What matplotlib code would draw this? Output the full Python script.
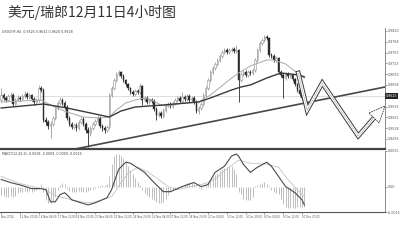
import numpy as np
import matplotlib
matplotlib.use('Agg')
import matplotlib.pyplot as plt
import matplotlib.transforms as mtransforms

# USDCHF H4 bars (one per 4 hours, oldest first)
open_first = 0.9613
closes = [0.9628, 0.9619, 0.9613, 0.9625, 0.9628, 0.9601, 0.9613, 0.9619, 0.9616, 0.9625,
          0.9631, 0.9622, 0.9628, 0.9616, 0.9607, 0.9613, 0.9649, 0.9643, 0.9553, 0.9547,
          0.9535, 0.9541, 0.9559, 0.9589, 0.9604, 0.9613, 0.9604, 0.9592, 0.9559, 0.9541,
          0.9532, 0.9538, 0.9529, 0.9547, 0.9556, 0.9541, 0.9523, 0.9514, 0.9529, 0.9541,
          0.9550, 0.9559, 0.9535, 0.9529, 0.9523, 0.9532, 0.9628, 0.9649, 0.9673, 0.9691,
          0.9697, 0.9685, 0.9673, 0.9661, 0.9649, 0.9637, 0.9631, 0.9640, 0.9637, 0.9655,
          0.9613, 0.9619, 0.9607, 0.9613, 0.9610, 0.9586, 0.9568, 0.9574, 0.9565, 0.9583,
          0.9598, 0.9601, 0.9595, 0.9604, 0.9613, 0.9619, 0.9610, 0.9622, 0.9616, 0.9625,
          0.9613, 0.9619, 0.9607, 0.9580, 0.9589, 0.9601, 0.9628, 0.9649, 0.9673, 0.9697,
          0.9709, 0.9721, 0.9733, 0.9745, 0.9757, 0.9763, 0.9757, 0.9763, 0.9766, 0.9760,
          0.9763, 0.9673, 0.9691, 0.9697, 0.9688, 0.9697, 0.9694, 0.9703, 0.9733, 0.9763,
          0.9784, 0.9793, 0.9802, 0.9799, 0.9748, 0.9745, 0.9733, 0.9739, 0.9697, 0.9688,
          0.9679, 0.9691, 0.9685, 0.9688, 0.9676, 0.9661, 0.9643, 0.9631, 0.9619, 0.9625]
highs = [0.9649, 0.9634, 0.9625, 0.9631, 0.9637, 0.9634, 0.9619, 0.9628, 0.9625, 0.9631,
         0.9640, 0.9637, 0.9634, 0.9631, 0.9622, 0.9619, 0.9658, 0.9655, 0.9649, 0.9562,
         0.9553, 0.9550, 0.9565, 0.9595, 0.9610, 0.9622, 0.9619, 0.9610, 0.9598, 0.9565,
         0.9547, 0.9544, 0.9544, 0.9553, 0.9565, 0.9562, 0.9547, 0.9532, 0.9535, 0.9547,
         0.9556, 0.9568, 0.9565, 0.9541, 0.9535, 0.9538, 0.9634, 0.9655, 0.9679, 0.9697,
         0.9703, 0.9700, 0.9691, 0.9676, 0.9664, 0.9652, 0.9643, 0.9646, 0.9646, 0.9664,
         0.9658, 0.9625, 0.9625, 0.9619, 0.9619, 0.9616, 0.9592, 0.9580, 0.9580, 0.9589,
         0.9604, 0.9607, 0.9607, 0.9610, 0.9619, 0.9625, 0.9625, 0.9637, 0.9628, 0.9631,
         0.9631, 0.9625, 0.9625, 0.9613, 0.9595, 0.9607, 0.9634, 0.9655, 0.9679, 0.9703,
         0.9715, 0.9727, 0.9739, 0.9751, 0.9763, 0.9769, 0.9769, 0.9769, 0.9772, 0.9772,
         0.9778, 0.9766, 0.9697, 0.9703, 0.9703, 0.9703, 0.9703, 0.9709, 0.9739, 0.9769,
         0.9790, 0.9799, 0.9808, 0.9808, 0.9802, 0.9754, 0.9751, 0.9745, 0.9742, 0.9703,
         0.9694, 0.9697, 0.9697, 0.9694, 0.9691, 0.9679, 0.9664, 0.9646, 0.9634, 0.9631]
lows = [0.9607, 0.9613, 0.9607, 0.9610, 0.9619, 0.9595, 0.9598, 0.9610, 0.9610, 0.9613,
        0.9619, 0.9616, 0.9616, 0.9610, 0.9598, 0.9601, 0.9607, 0.9637, 0.9547, 0.9538,
        0.9526, 0.9499, 0.9535, 0.9553, 0.9583, 0.9598, 0.9598, 0.9586, 0.9553, 0.9535,
        0.9526, 0.9526, 0.9520, 0.9523, 0.9541, 0.9535, 0.9514, 0.9472, 0.9505, 0.9523,
        0.9535, 0.9544, 0.9529, 0.9520, 0.9514, 0.9517, 0.9526, 0.9622, 0.9643, 0.9667,
        0.9685, 0.9679, 0.9667, 0.9655, 0.9643, 0.9631, 0.9625, 0.9625, 0.9631, 0.9631,
        0.9598, 0.9607, 0.9601, 0.9601, 0.9604, 0.9580, 0.9553, 0.9562, 0.9559, 0.9559,
        0.9577, 0.9592, 0.9589, 0.9589, 0.9598, 0.9607, 0.9604, 0.9604, 0.9610, 0.9610,
        0.9607, 0.9607, 0.9601, 0.9574, 0.9571, 0.9583, 0.9595, 0.9622, 0.9643, 0.9667,
        0.9691, 0.9703, 0.9715, 0.9727, 0.9739, 0.9751, 0.9751, 0.9751, 0.9757, 0.9754,
        0.9754, 0.9607, 0.9667, 0.9685, 0.9682, 0.9682, 0.9688, 0.9688, 0.9697, 0.9727,
        0.9757, 0.9778, 0.9787, 0.9793, 0.9742, 0.9739, 0.9727, 0.9727, 0.9691, 0.9682,
        0.9619, 0.9673, 0.9679, 0.9679, 0.9670, 0.9655, 0.9637, 0.9625, 0.9613, 0.9604]

# moving averages (bar index, price)
ma_slow_x = [0, 9, 18, 28, 42, 46, 51, 57, 69, 84, 89, 98, 102, 106, 113, 119, 123, 127, 129]
ma_slow_y = [0.9589, 0.9595, 0.9601, 0.9589, 0.9568, 0.9562, 0.9580, 0.9592, 0.9598, 0.9607,
             0.9619, 0.9643, 0.9652, 0.9658, 0.9679, 0.9694, 0.9691, 0.9688, 0.9682]
ma_fast_x = [0, 9, 17, 21, 28, 35, 42, 46, 49, 53, 57, 61, 64, 68, 71, 77, 84, 89, 97, 101,
             106, 113, 116, 121, 126, 129]
ma_fast_y = [0.9607, 0.9610, 0.9613, 0.9598, 0.9577, 0.9562, 0.9559, 0.9562, 0.9583, 0.9604,
             0.9613, 0.9619, 0.9613, 0.9598, 0.9595, 0.9604, 0.9607, 0.9628, 0.9673, 0.9694,
             0.9715, 0.9733, 0.9733, 0.9721, 0.9694, 0.9679]

# MACD panel
macd_x = [0, 4, 9, 13, 17, 19, 21, 23, 25, 27, 28, 30, 34, 37, 40, 43, 45, 47, 48, 50, 53, 55,
          57, 61, 65, 69, 72, 77, 82, 85, 88, 91, 95, 98, 100, 101, 103, 106, 109, 113, 115,
          118, 121, 125, 128, 129]
macd_y = [0.0007, 0.0004, 0.0001, -0.0002, -0.0002, -0.0003, -0.0015, -0.0015, -0.0008, -0.0006,
          -0.0008, -0.0013, -0.0016, -0.0018, -0.0016, -0.0013, -0.0011, -0.0003, 0.0004, 0.0017,
          0.0024, 0.0023, 0.0020, 0.0014, 0.0004, -0.0005, -0.0005, 0.0000, 0.0004, 0.0000,
          0.0002, 0.0014, 0.0020, 0.0030, 0.0032, 0.0030, 0.0022, 0.0014, 0.0019, 0.0024,
          0.0020, 0.0010, 0.0000, -0.0006, -0.0013, -0.0018]
signal_x = [0, 8, 19, 23, 30, 34, 38, 43, 47, 51, 54, 58, 62, 67, 71, 75, 79, 85, 88, 92, 94,
            97, 101, 106, 113, 118, 122, 126, 129]
signal_y = [0.0010, 0.0003, -0.0003, -0.0009, -0.0013, -0.0015, -0.0016, -0.0013, -0.0010, 0.0004,
            0.0013, 0.0019, 0.0015, 0.0007, 0.0000, -0.0003, -0.0001, 0.0002, 0.0004, 0.0009,
            0.0014, 0.0019, 0.0026, 0.0023, 0.0022, 0.0019, 0.0007, -0.0003, -0.0010]
hist = [-0.0008, -0.0009, -0.0010, -0.0010, -0.0009, -0.0010, -0.0009, -0.0006, -0.0005, -0.0005,
        -0.0004, -0.0005, -0.0004, -0.0005, -0.0004, -0.0003, -0.0002, 0.0003, -0.0005, -0.0013,
        -0.0016, -0.0016, -0.0014, -0.0010, -0.0003, 0.0002, 0.0004, 0.0003, -0.0002, -0.0004,
        -0.0005, -0.0005, -0.0005, -0.0004, -0.0004, -0.0005, -0.0005, -0.0004, -0.0003, -0.0002,
        -0.0001, 0.0001, 0.0001, 0.0002, 0.0002, 0.0003, 0.0010, 0.0022, 0.0030, 0.0032,
        0.0032, 0.0030, 0.0028, 0.0024, 0.0020, 0.0016, 0.0012, 0.0008, 0.0005, 0.0002,
        -0.0003, -0.0006, -0.0008, -0.0010, -0.0012, -0.0013, -0.0015, -0.0016, -0.0016, -0.0015,
        -0.0012, -0.0008, -0.0005, -0.0003, -0.0002, -0.0001, 0.0000, 0.0002, 0.0003, 0.0004,
        0.0005, 0.0004, 0.0003, 0.0001, -0.0001, -0.0002, -0.0001, 0.0002, 0.0004, 0.0006,
        0.0009, 0.0011, 0.0013, 0.0015, 0.0017, 0.0018, 0.0019, 0.0020, 0.0020, 0.0017,
        0.0012, -0.0005, -0.0007, -0.0012, -0.0013, -0.0013, -0.0013, -0.0010, 0.0001, 0.0002,
        0.0003, 0.0004, 0.0005, 0.0003, 0.0001, -0.0003, -0.0005, -0.0006, -0.0007, -0.0012,
        -0.0017, -0.0020, -0.0021, -0.0021, -0.0021, -0.0021, -0.0020, -0.0020, -0.0020, -0.0020]

# trend line and forecast path drawn on the chart
trend_x = [31.4, 163.3]
trend_y = [0.9466, 0.9652]
path_x = [126.4, 130.2, 136.6, 151.9, 158.2]
path_y = [0.9694, 0.9583, 0.9664, 0.9505, 0.9556]
head_x = [156.5, 163.3, 160.8]
head_y = [0.9574, 0.9595, 0.9544]

price_ticks = [0.9820, 0.9788, 0.9755, 0.9723, 0.9690, 0.9658, 0.9593, 0.9561, 0.9528, 0.9496]
macd_ticks = [0.0035, 0.0, -0.0025]
macd_tick_labels = ['0.0035', '0.00', '-0.0025']
time_tick_pos = [0, 8, 16, 24, 32, 40, 48, 56, 64, 72, 80, 88, 96, 104, 112, 120, 128]
time_labels = ['Nov 2014', '12 Nov 20:00', '14 Nov 04:00', '17 Nov 12:00', '18 Nov 20:00',
               '20 Nov 04:00', '21 Nov 12:00', '24 Nov 20:00', '26 Nov 04:00', '27 Nov 12:00',
               '28 Nov 20:00', '2 Dec 04:00', '3 Dec 12:00', '4 Dec 20:00', '8 Dec 04:00',
               '9 Dec 12:00', '10 Dec 20:00']
title = '美元/瑞郎12月11日4小时图'
info = 'USDCHF,H4  0.9625 0.9632 0.9620 0.9628'
macd_info = 'MACD(12,26,9) -0.0018 -0.0009 -0.0009 -0.0019'

W, H = 400, 248
fig = plt.figure(figsize=(W / 100, H / 100), dpi=100)
ax = fig.add_axes([0, 1 - 149 / H, 385 / W, (149 - 28) / H])
ax2 = fig.add_axes([0, 1 - 212 / H, 385 / W, (212 - 151) / H])

idx = np.arange(len(closes))
c = np.array(closes)
o = np.array([open_first] + closes[:-1])
up = c >= o
dark = '#2b2b2b'
light = '#9c9c9c'

# candles
wick_cols = [light if u else dark for u in up]
ax.vlines(idx, lows, highs, colors=wick_cols, lw=0.6, zorder=2)
ax.bar(idx[up], (c - o)[up], bottom=o[up], width=0.62, color='white',
       edgecolor=light, lw=0.45, zorder=3)
ax.bar(idx[~up], (c - o)[~up], bottom=o[~up], width=0.62, color=dark,
       edgecolor=dark, lw=0.3, zorder=3)

ax.plot(ma_fast_x, ma_fast_y, color='#a8a8a8', lw=0.7, zorder=4)
ax.plot(ma_slow_x, ma_slow_y, color='#3a3a3a', lw=1.0, zorder=4)
ax.axhline(closes[-1], color='#d0d0d0', lw=0.5, zorder=1)
ax.plot(trend_x, trend_y, color='#484848', lw=1.2, zorder=5)

# hollow zigzag forecast arrow
ax.plot(path_x, path_y, color='#3a3a3a', lw=3.4, zorder=6, solid_joinstyle='miter')
ax.plot(path_x, path_y, color='white', lw=2.0, zorder=7, solid_joinstyle='miter')
ax.plot(path_x, path_y, color='#8a8a8a', lw=0.5, ls=(0, (1.5, 1)), zorder=8)
ax.fill(head_x, head_y, facecolor='white', edgecolor='#3a3a3a', lw=0.6,
        ls=(0, (2, 1)), zorder=8)

ax.set_xlim(-0.5, 163.3)
ax.set_ylim(0.9466, 0.9829)
ax.set_xticks([])
ax.yaxis.tick_right()
ax.set_yticks(price_ticks)
ax.set_yticklabels(['%.4f' % v for v in price_ticks])
ax.tick_params(axis='y', labelsize=2.3, length=1.2, width=0.4, colors='#555555', pad=0.6)
for s in ['left', 'top']:
    ax.spines[s].set_visible(False)
ax.spines['right'].set_color('#777777')
ax.spines['right'].set_linewidth(0.6)
ax.spines['bottom'].set_color('#444444')
ax.spines['bottom'].set_linewidth(1.6)

tr = mtransforms.blended_transform_factory(ax.transAxes, ax.transData)
ax.text(1.003, closes[-1], '%.4f' % closes[-1], transform=tr, fontsize=2.3, color='white',
        va='center', ha='left', bbox=dict(fc='#222222', ec='none', pad=0.5), clip_on=False)
ax.text(0.006, 0.965, info, transform=ax.transAxes, fontsize=2.3, color='#444444',
        va='center', ha='left')

# MACD panel
ax2.vlines(idx, 0, hist, colors='#b3b3b3', lw=0.6)
ax2.plot(signal_x, signal_y, color='#c4c4c4', lw=0.6)
ax2.plot(macd_x, macd_y, color='#4a4a4a', lw=0.8)
ax2.set_xlim(-0.5, 163.3)
ax2.set_ylim(-0.0025, 0.0035)
ax2.yaxis.tick_right()
ax2.set_yticks(macd_ticks)
ax2.set_yticklabels(macd_tick_labels)
ax2.tick_params(axis='y', labelsize=2.3, length=1.2, width=0.4, colors='#555555', pad=0.6)
ax2.set_xticks(time_tick_pos)
ax2.set_xticklabels(time_labels, ha='left')
ax2.tick_params(axis='x', labelsize=1.9, length=1.2, width=0.4, colors='#555555', pad=1)
for s in ['left', 'top']:
    ax2.spines[s].set_visible(False)
ax2.spines['right'].set_color('#777777')
ax2.spines['right'].set_linewidth(0.6)
ax2.spines['bottom'].set_color('#555555')
ax2.spines['bottom'].set_linewidth(0.8)
ax2.text(0.004, 0.95, macd_info, transform=ax2.transAxes, fontsize=2.3, color='#444444',
         va='center', ha='left')

fig.text(7 / W, 1 - 13 / H, title, fontsize=10, color='#333333', va='center', ha='left',
         fontweight='light', family=['Noto Sans CJK SC', 'DejaVu Sans'])

fig.savefig('out.png', dpi=100, facecolor='white')
